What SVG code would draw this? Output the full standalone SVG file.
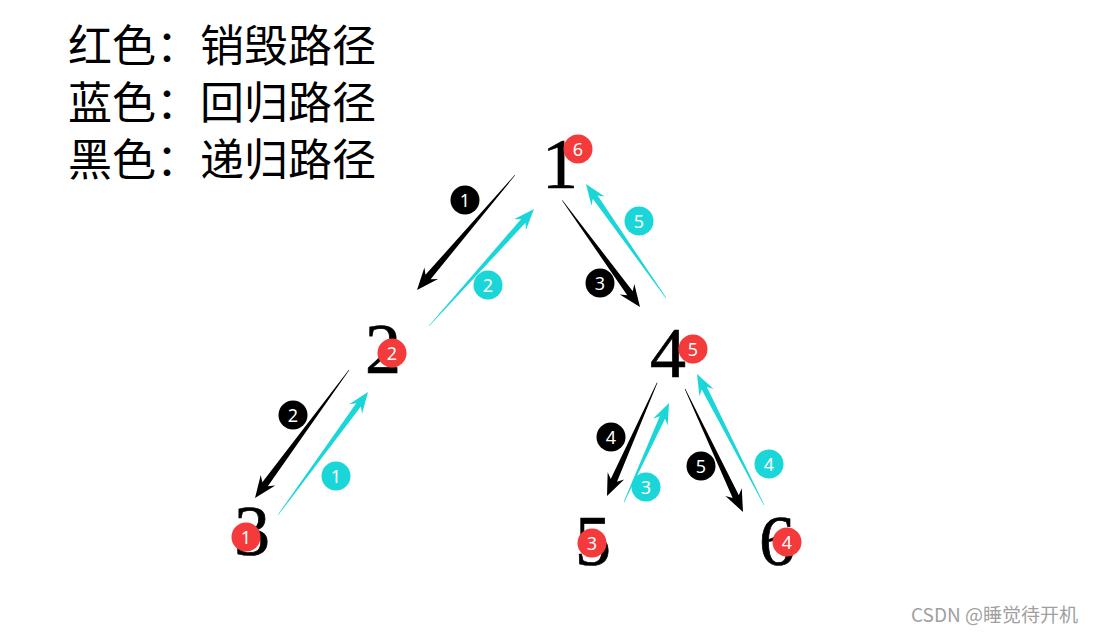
<svg xmlns="http://www.w3.org/2000/svg" width="1093" height="635" viewBox="0 0 1093 635">
<style>
.legend{font-family:"Noto Sans CJK SC","Noto Sans",sans-serif;font-size:44px;fill:#000}
.node{font-family:"Liberation Serif","DejaVu Serif",serif;font-size:72px;fill:#000;stroke:#000;stroke-width:0.7;text-anchor:middle}
.badge text{font-family:"Noto Sans","Liberation Sans",sans-serif;font-size:18px;fill:#fff;text-anchor:middle}
.red{fill:#f43a3a}
.cyan{fill:#1bd6d8}
.black{fill:#000}
.wm{font-family:"Noto Sans CJK SC","Noto Sans",sans-serif;font-size:19px;fill:#a0a0a0;text-anchor:end}
</style>
<rect width="1093" height="635" fill="#fff"/>
<g id="legend">
<text class="legend" x="68" y="62">红色：销毁路径</text>
<text class="legend" x="68" y="119">蓝色：回归路径</text>
<text class="legend" x="68" y="176">黑色：递归路径</text>
</g>
<g id="connectors">
<polygon class="black" transform="translate(417,290) rotate(130.44)" points="-151,-0.3 -17,-3.4 -22,-9 0,0 -22,9 -17,3.4 -151,0.3"/>
<polygon class="cyan" transform="translate(534,209) rotate(-48.09)" points="-157,-0.3 -16,-2.9 -21,-8 0,0 -21,8 -16,2.9 -157,0.3"/>
<polygon class="black" transform="translate(640,307) rotate(53.91)" points="-132,-0.3 -17,-3.4 -22,-9 0,0 -22,9 -17,3.4 -132,0.3"/>
<polygon class="cyan" transform="translate(586,184) rotate(-125.06)" points="-139,-0.3 -16,-2.9 -21,-8 0,0 -21,8 -16,2.9 -139,0.3"/>
<polygon class="black" transform="translate(255,498) rotate(126.29)" points="-159,-0.3 -17,-3.4 -22,-9 0,0 -22,9 -17,3.4 -159,0.3"/>
<polygon class="cyan" transform="translate(368,392) rotate(-53.80)" points="-152,-0.3 -16,-2.9 -21,-8 0,0 -21,8 -16,2.9 -152,0.3"/>
<polygon class="black" transform="translate(607,496) rotate(113.87)" points="-124,-0.3 -17,-3.4 -22,-9 0,0 -22,9 -17,3.4 -124,0.3"/>
<polygon class="cyan" transform="translate(669,403) rotate(-65.56)" points="-109,-0.3 -16,-2.9 -21,-8 0,0 -21,8 -16,2.9 -109,0.3"/>
<polygon class="black" transform="translate(743,512) rotate(64.75)" points="-136,-0.3 -17,-3.4 -22,-9 0,0 -22,9 -17,3.4 -136,0.3"/>
<polygon class="cyan" transform="translate(697,374) rotate(-117.09)" points="-147,-0.3 -16,-2.9 -21,-8 0,0 -21,8 -16,2.9 -147,0.3"/>
</g>
<g id="edge-labels" class="badge">
<circle class="black" cx="465" cy="200" r="14.5"/><text x="465" y="206.5">1</text>
<circle class="cyan" cx="488" cy="285" r="14.5"/><text x="488" y="291.5">2</text>
<circle class="black" cx="600" cy="283" r="14.5"/><text x="600" y="289.5">3</text>
<circle class="cyan" cx="639" cy="221" r="14.5"/><text x="639" y="227.5">5</text>
<circle class="black" cx="293" cy="415" r="14.5"/><text x="293" y="421.5">2</text>
<circle class="cyan" cx="336" cy="476" r="14.5"/><text x="336" y="482.5">1</text>
<circle class="black" cx="611" cy="437" r="14.5"/><text x="611" y="443.5">4</text>
<circle class="cyan" cx="646" cy="487" r="14.5"/><text x="646" y="493.5">3</text>
<circle class="black" cx="701" cy="466" r="14.5"/><text x="701" y="472.5">5</text>
<circle class="cyan" cx="769" cy="464" r="14.5"/><text x="769" y="470.5">4</text>
</g>
<g id="node1"><text class="node" x="560" y="188">1</text><g class="badge"><circle class="red" cx="578" cy="149" r="14.5"/><text x="578" y="155.5">6</text></g></g>
<g id="node2"><text class="node" x="383" y="373">2</text><g class="badge"><circle class="red" cx="392" cy="353" r="14.5"/><text x="392" y="359.5">2</text></g></g>
<g id="node4"><text class="node" x="668" y="377">4</text><g class="badge"><circle class="red" cx="693" cy="349" r="14.5"/><text x="693" y="355.5">5</text></g></g>
<g id="node3"><text class="node" x="252" y="555">3</text><g class="badge"><circle class="red" cx="246" cy="537" r="14.5"/><text x="246" y="543.5">1</text></g></g>
<g id="node5"><text class="node" x="593" y="565">5</text><g class="badge"><circle class="red" cx="592" cy="543" r="14.5"/><text x="592" y="549.5">3</text></g></g>
<g id="node6"><text class="node" x="777" y="565">6</text><g class="badge"><circle class="red" cx="787" cy="542" r="14.5"/><text x="787" y="548.5">4</text></g></g>
<text class="wm" x="1078" y="622">CSDN @睡觉待开机</text>
</svg>
